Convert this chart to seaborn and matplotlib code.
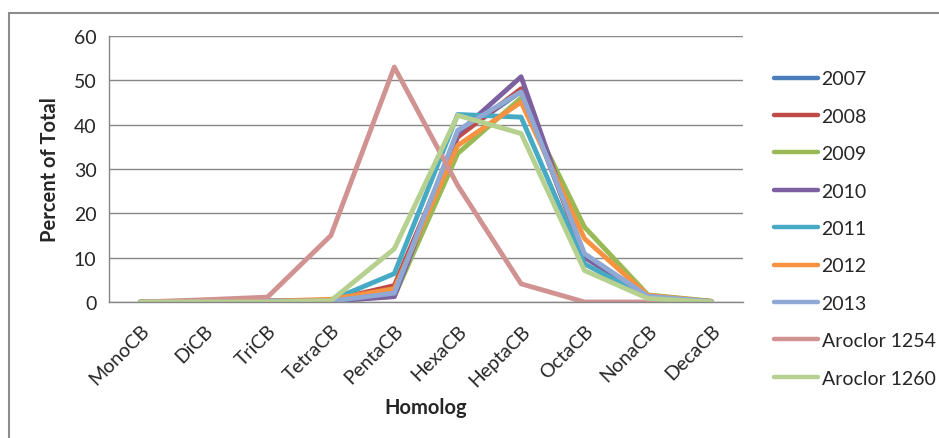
import matplotlib
matplotlib.use("Agg")
import matplotlib.pyplot as plt
import seaborn as sns
import pandas as pd
import numpy as np
from matplotlib.patches import Rectangle
from matplotlib.ticker import MultipleLocator, FixedLocator

categories = ["MonoCB", "DiCB", "TriCB", "TetraCB", "PentaCB",
              "HexaCB", "HeptaCB", "OctaCB", "NonaCB", "DecaCB"]
y2007 = [0, 0.1, 0.2, 0.3, 2.2, 37.5, 47.5, 10.5, 1.2, 0.1]
y2008 = [0, 0.1, 0.2, 0.4, 3.7, 37.2, 48.1, 10.1, 1.3, 0.1]
y2009 = [0, 0.1, 0.2, 0.2, 1.3, 33.5, 46.0, 16.9, 1.6, 0.2]
y2010 = [0, 0.1, 0.2, 0.2, 1.2, 38.0, 50.8, 10.1, 1.2, 0.1]
y2011 = [0, 0.1, 0.2, 0.4, 6.4, 42.3, 41.7, 8.6, 1.0, 0.1]
y2012 = [0, 0.1, 0.2, 0.6, 3.0, 35.3, 45.1, 14.3, 1.5, 0.1]
y2013 = [0, 0.1, 0.2, 0.2, 2.0, 38.7, 47.4, 10.9, 1.3, 0.1]
aroclor1254 = [0, 0.5, 1.1, 15.0, 53.0, 26.3, 4.1, 0, 0, 0]
aroclor1260 = [0, 0, 0, 0.3, 12.0, 42.1, 38.0, 7.1, 0.8, 0]

series_names = ["2007", "2008", "2009", "2010", "2011", "2012", "2013",
                "Aroclor 1254", "Aroclor 1260"]
series_values = [y2007, y2008, y2009, y2010, y2011, y2012, y2013,
                 aroclor1254, aroclor1260]
colors = ["#4A7EBB", "#BE4B48", "#98B954", "#7D60A0", "#46AAC5",
          "#F69240", "#8FA8D4", "#D09391", "#B6D08F"]

rows = []
for name, vals in zip(series_names, series_values):
    for i, v in enumerate(vals):
        rows.append({"Homolog": i, "Percent": v, "Series": name})
df = pd.DataFrame(rows)

sns.set_style("white")
plt.rcParams["font.family"] = ["Lato", "DejaVu Sans"]

fig = plt.figure(figsize=(9.39, 4.39), dpi=100)
ax = fig.add_axes([109 / 939, (439 - 303) / 439, (743 - 109) / 939, (303 - 37) / 439])

sns.lineplot(data=df, x="Homolog", y="Percent", hue="Series",
             hue_order=series_names, palette=dict(zip(series_names, colors)),
             linewidth=3.5, ax=ax, legend=False)

ax.set_xlim(-0.5, len(categories) - 0.5)
ax.set_ylim(0, 60)
ax.yaxis.set_major_locator(MultipleLocator(10))
ax.grid(axis="y", color="#868686", linewidth=1)
ax.set_axisbelow(True)

ax.set_xticks(range(len(categories)))
ax.set_xticklabels(categories, rotation=45, ha="right", rotation_mode="anchor",
                   fontsize=14)
ax.tick_params(axis="x", which="major", length=0, pad=14)
ax.xaxis.set_minor_locator(FixedLocator(np.arange(-0.5, len(categories), 1)))
ax.tick_params(axis="x", which="minor", length=5, color="#868686", width=1)
ax.tick_params(axis="y", which="major", length=6, color="#868686", width=1,
               labelsize=14, pad=3)

for s in ["top", "right"]:
    ax.spines[s].set_visible(False)
for s in ["left", "bottom"]:
    ax.spines[s].set_color("#868686")
    ax.spines[s].set_linewidth(1)

ax.set_xlabel("Homolog", fontsize=14.5, fontweight="bold", labelpad=6)
ax.set_ylabel("Percent of Total", fontsize=14.5, fontweight="bold", labelpad=10)

handles = [plt.Line2D([], [], color=c, linewidth=3.2) for c in colors]
fig.legend(handles, series_names, loc="center left",
           bbox_to_anchor=(774 / 939, (439 - 229.5) / 439),
           frameon=False, fontsize=14, labelspacing=1.05,
           handlelength=2.25, handletextpad=0.2, borderpad=0, borderaxespad=0)

fig.patches.append(Rectangle((8.5 / 939, -0.1), 1.2, (439 - 13.5) / 439 + 0.1,
                             transform=fig.transFigure, fill=False,
                             edgecolor="#8c8c8c", linewidth=1.5))

fig.savefig("out.png", dpi=100)
